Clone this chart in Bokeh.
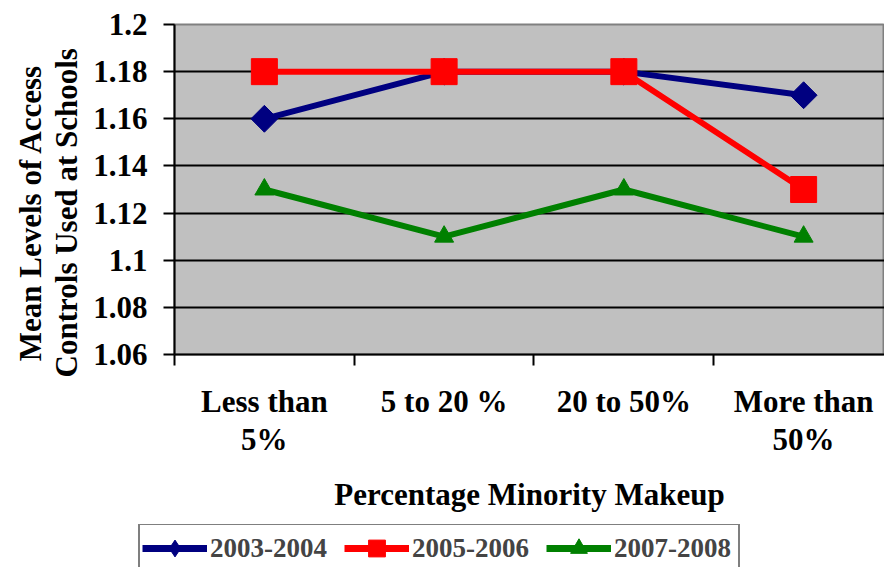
import math
from bokeh.plotting import figure
from bokeh.layouts import column
from bokeh.models import FixedTicker, NumeralTickFormatter, Legend, LegendItem, Range1d
from bokeh.embed import file_html
from bokeh.resources import INLINE

categories = ["Less than\n5%", "5 to 20 %", "20 to 50%", "More than\n50%"]
series_names = ["2003-2004", "2005-2006", "2007-2008"]
s2003 = [1.16, 1.18, 1.18, 1.17]
s2005 = [1.18, 1.18, 1.18, 1.13]
s2007 = [1.13, 1.11, 1.13, 1.11]
y_ticks = [1.06, 1.08, 1.10, 1.12, 1.14, 1.16, 1.18, 1.20]
x_title = "Percentage Minority Makeup"
y_title_lines = ["Mean Levels of Access", "Controls Used at Schools"]

xs = list(range(1, len(categories) + 1))
FONT = "Liberation Serif"
colors = ["#000080", "#FF0000", "#008000"]
series = [s2003, s2005, s2007]

# trailing no-break spaces shift the centred rotated title toward the bottom, as in the original
pad = "\u00a0" * 6
y_title = "\n".join(line + pad for line in y_title_lines)

p = figure(width=884, height=524, output_backend="svg", toolbar_location=None,
           x_range=Range1d(0.5, 4.45), y_range=Range1d(1.06, 1.2),
           min_border_left=174, min_border_right=0, min_border_top=24, min_border_bottom=170)
p.background_fill_color = "#C0C0C0"
p.border_fill_color = "white"
p.outline_line_color = "#808080"
p.outline_line_width = 2

# y axis
p.yaxis.ticker = FixedTicker(ticks=y_ticks)
p.yaxis.formatter = NumeralTickFormatter(format="0.[00]")
p.yaxis.major_label_text_font = FONT
p.yaxis.major_label_text_font_style = "bold"
p.yaxis.major_label_text_font_size = "31px"
p.yaxis.major_label_text_color = "black"
p.yaxis.major_tick_out = 11
p.yaxis.major_tick_in = 0
p.yaxis.minor_tick_line_color = None
p.yaxis.axis_line_width = 2
p.yaxis.axis_line_color = "black"
p.yaxis.major_tick_line_width = 2
p.yaxis.major_tick_line_color = "black"
p.yaxis.major_label_standoff = 16
p.yaxis.axis_label = y_title
p.yaxis.axis_label_text_font = FONT
p.yaxis.axis_label_text_font_style = "bold"
p.yaxis.axis_label_text_font_size = "31px"
p.yaxis.axis_label_text_color = "black"
p.yaxis.axis_label_text_line_height = 1.05
p.yaxis.axis_label_standoff = 6
p.ygrid.ticker = FixedTicker(ticks=y_ticks)
p.ygrid.grid_line_color = "black"
p.ygrid.grid_line_width = 2
p.xgrid.visible = False

# x axis
p.xaxis.ticker = FixedTicker(ticks=xs, minor_ticks=[0.5, 1.5, 2.5, 3.5])
p.xaxis.major_label_overrides = {i: c for i, c in zip(xs, categories)}
p.xaxis.major_label_text_font = FONT
p.xaxis.major_label_text_font_style = "bold"
p.xaxis.major_label_text_font_size = "31px"
p.xaxis.major_label_text_line_height = 1.09
p.xaxis.major_label_text_color = "black"
p.xaxis.major_tick_out = 0
p.xaxis.major_tick_in = 0
p.xaxis.minor_tick_out = 11
p.xaxis.minor_tick_in = 0
p.xaxis.minor_tick_line_width = 2
p.xaxis.minor_tick_line_color = "black"
p.xaxis.axis_line_width = 2
p.xaxis.axis_line_color = "black"
p.xaxis.major_label_standoff = 18
p.xaxis.axis_label = x_title
p.xaxis.axis_label_text_font = FONT
p.xaxis.axis_label_text_font_style = "bold"
p.xaxis.axis_label_text_font_size = "31px"
p.xaxis.axis_label_text_color = "black"
p.xaxis.axis_label_standoff = 17

p.line(xs, s2003, line_color=colors[0], line_width=6)
p.scatter(xs, s2003, marker="square", angle=math.pi / 4, size=19, color=colors[0])
p.line(xs, s2005, line_color=colors[1], line_width=6)
p.scatter(xs, s2005, marker="square", size=26, color=colors[1])
p.line(xs, s2007, line_color=colors[2], line_width=6)
p.scatter(xs, s2007, marker="triangle", size=19, color=colors[2])

# legend strip (its own small figure, glyphs out of view, only the legend shows)
p2 = figure(width=884, height=43, output_backend="svg", toolbar_location=None,
            x_range=Range1d(100, 101), y_range=Range1d(100, 101),
            x_axis_location=None, y_axis_location=None,
            min_border_left=0, min_border_right=0, min_border_top=0, min_border_bottom=0)
p2.outline_line_color = None
p2.background_fill_color = "white"
p2.border_fill_color = "white"
p2.grid.visible = False
for fig in (p, p2):
    if "frame_align" in fig.properties():
        fig.frame_align = False
markers = ["diamond", "square", "triangle"]
items = []
for name, ys, c, mk in zip(series_names, series, colors, markers):
    lr = p2.line(xs, ys, line_color=c, line_width=7)
    sr = p2.scatter(xs, ys, marker=mk, size=20, color=c)
    items.append(LegendItem(label=name, renderers=[lr, sr]))

legend = Legend(items=items, orientation="horizontal", location=(138, -6),
                label_text_font=FONT, label_text_font_style="bold", label_text_font_size="27px",
                glyph_width=65, glyph_height=42, label_width=122, label_standoff=3,
                spacing=12, padding=2, margin=0,
                border_line_color="black", border_line_width=2,
                background_fill_color="white", background_fill_alpha=1)
p2.add_layout(legend, "center")

open("out.html", "w").write(file_html(column(p, p2), INLINE))
